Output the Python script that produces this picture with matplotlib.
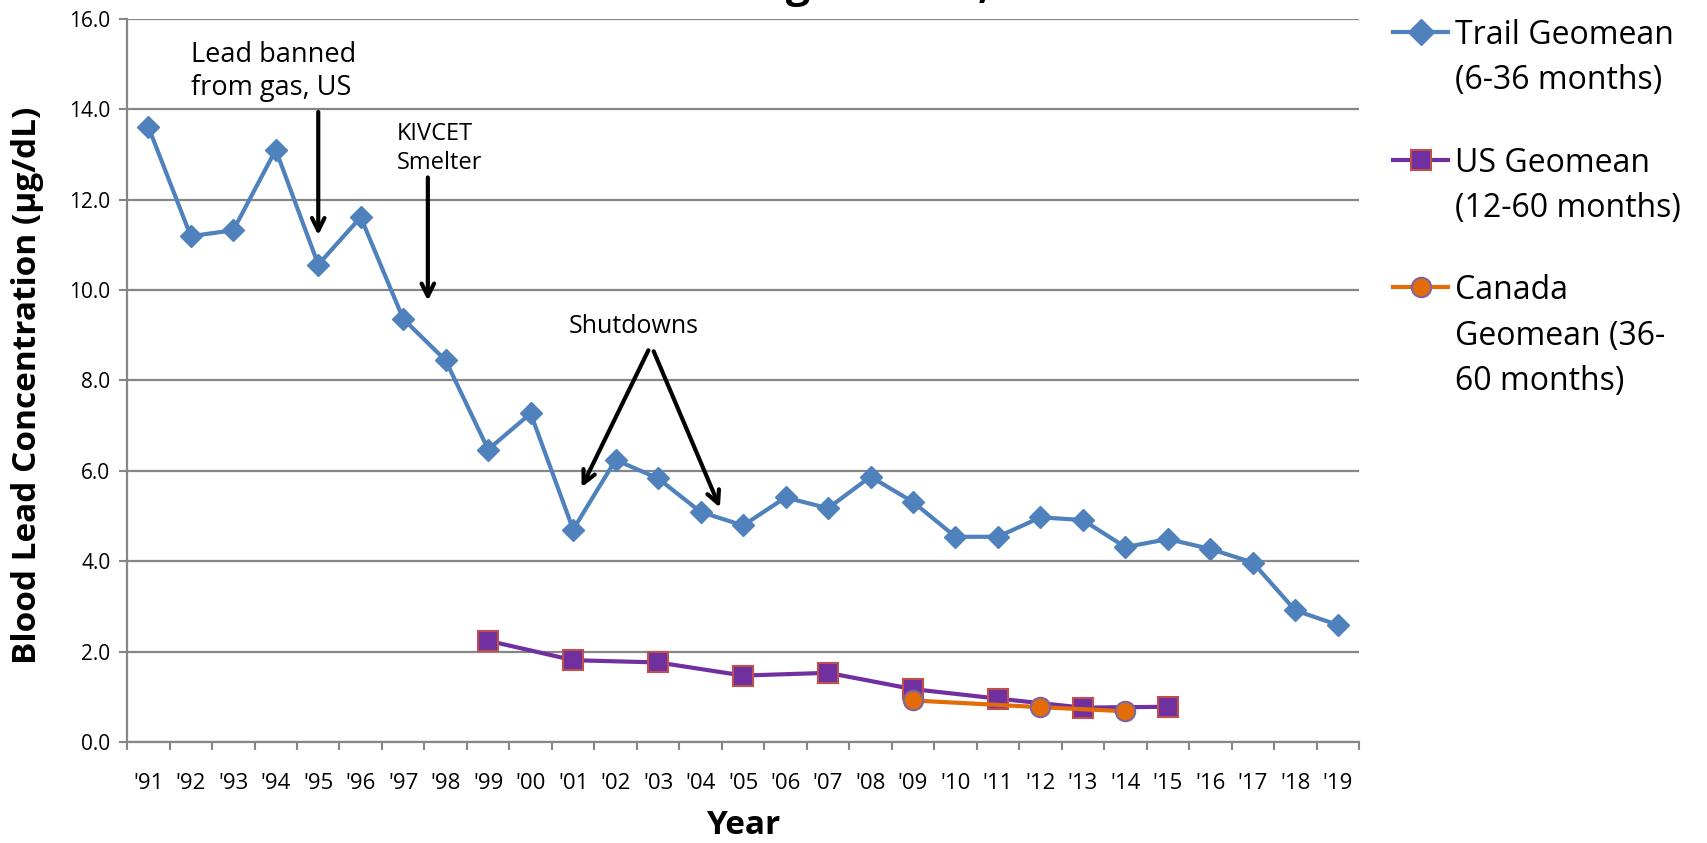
import numpy as np
import matplotlib
matplotlib.use("Agg")
import matplotlib.pyplot as plt
from matplotlib.lines import Line2D

plt.rcParams["font.family"] = ["Open Sans", "DejaVu Sans"]

# --- data
years = ["'91", "'92", "'93", "'94", "'95", "'96", "'97", "'98", "'99", "'00",
         "'01", "'02", "'03", "'04", "'05", "'06", "'07", "'08", "'09", "'10",
         "'11", "'12", "'13", "'14", "'15", "'16", "'17", "'18", "'19"]
trail = [13.61, 11.19, 11.32, 13.10, 10.56, 11.61, 9.36, 8.44, 6.47, 7.27,
         4.70, 6.24, 5.83, 5.09, 4.79, 5.41, 5.17, 5.87, 5.31, 4.54,
         4.54, 4.97, 4.91, 4.31, 4.49, 4.27, 3.97, 2.91, 2.59]
us_years = ["'99", "'01", "'03", "'05", "'07", "'09", "'11", "'13", "'15"]
us_vals = [2.24, 1.81, 1.76, 1.47, 1.53, 1.17, 0.96, 0.76, 0.78]
ca_years = ["'09", "'12", "'14"]
ca_vals = [0.92, 0.77, 0.68]

legend_labels = [["Trail Geomean", "(6-36 months)"],
                 ["US Geomean", "(12-60 months)"],
                 ["Canada", "Geomean (36-", "60 months)"]]

BLUE = "#4F81BD"
PURPLE = "#7030A0"
RED_EDGE = "#C0504D"
ORANGE = "#E36C09"
LAV_EDGE = "#8064A2"
GRID = "#868686"

x_of = {y: i for i, y in enumerate(years)}

fig = plt.figure(figsize=(17.08, 8.43), dpi=100)
ax = fig.add_axes([0.0744, 0.1198, 0.7213, 0.858])

ax.plot(range(len(years)), trail, color=BLUE, lw=3, marker="D", ms=11.5,
        mfc=BLUE, mec=BLUE, zorder=3)
ax.plot([x_of[y] for y in us_years], us_vals, color=PURPLE, lw=3, marker="s",
        ms=14, mfc=PURPLE, mec=RED_EDGE, mew=1.5, zorder=3)
ax.plot([x_of[y] for y in ca_years], ca_vals, color=ORANGE, lw=3, marker="o",
        ms=14, mfc=ORANGE, mec=LAV_EDGE, mew=1.5, zorder=4)

ax.set_xlim(-0.5, len(years) - 0.5)
ax.set_ylim(0, 16)
ax.set_yticks(np.arange(0, 16.1, 2))
ax.set_yticklabels([f"{v:.1f}" for v in np.arange(0, 16.1, 2)], fontsize=15)
ax.yaxis.grid(True, color=GRID, lw=1.6)
ax.set_axisbelow(True)

ax.set_xticks(np.arange(-0.5, len(years), 1.0))
ax.set_xticklabels([])
ax.set_xticks(range(len(years)), minor=True)
ax.set_xticklabels(years, minor=True, fontsize=16)
ax.tick_params(axis="x", which="major", length=6, width=1.5, color=GRID, direction="out")
ax.tick_params(axis="x", which="minor", length=0, pad=22)
ax.tick_params(axis="y", length=6, width=1.5, color=GRID, pad=6)

for s in ["top", "right"]:
    ax.spines[s].set_visible(False)
for s in ["left", "bottom"]:
    ax.spines[s].set_color(GRID)
    ax.spines[s].set_linewidth(1.6)

ax.set_ylabel("Blood Lead Concentration (\u00b5g/dL)", fontsize=24, fontweight="bold",
              va="center")
ax.yaxis.set_label_coords(-0.081, 0.493)
ax.set_xlabel("Year", fontsize=24, fontweight="bold")
ax.xaxis.set_label_coords(0.5, -0.116)
ax.xaxis.label.set_va("center")

# --- annotations
arrow = dict(arrowstyle="->,head_length=0.9,head_width=0.45", color="black", lw=3)
ax.text(1.0, 15.5, "Lead banned\nfrom gas, US", fontsize=19.5, va="top", linespacing=1.2)
ax.annotate("", xy=(4, 11.15), xytext=(4, 14.0), arrowprops=arrow)
ax.text(5.84, 13.72, "KIVCET\nSmelter", fontsize=17, va="top", linespacing=1.3)
ax.annotate("", xy=(6.58, 9.7), xytext=(6.58, 12.55), arrowprops=arrow)
ax.text(11.43, 9.2, "Shutdowns", fontsize=18, ha="center", va="center")
ax.annotate("", xy=(10.17, 5.58), xytext=(11.8, 8.72), arrowprops=arrow)
ax.annotate("", xy=(13.48, 5.13), xytext=(11.87, 8.70), arrowprops=arrow)

# --- title (mostly cut off above the figure, as in the source)
fig.text(0.4605, 1.003, "Blood Lead Testing Results, Trail BC", fontsize=31,
         fontweight="bold", ha="center", va="baseline")

# --- legend drawn beside the plot
W, H = 1708.0, 843.0
hx0, hx1, tx = 1393 / W, 1448 / W, 1455 / W
handle_y = [32, 160, 287]
baselines = [[44, 89], [172, 217], [299, 345, 390]]
styles = [dict(color=BLUE, marker="D", ms=13, mfc=BLUE, mec=BLUE),
          dict(color=PURPLE, marker="s", ms=14, mfc=PURPLE, mec=RED_EDGE, mew=1.5),
          dict(color=ORANGE, marker="o", ms=14, mfc=ORANGE, mec=LAV_EDGE, mew=1.5)]
for hy, lines, st, bl in zip(handle_y, legend_labels, styles, baselines):
    yf = 1 - hy / H
    fig.add_artist(Line2D([hx0, (hx0 + hx1) / 2, hx1], [yf, yf, yf], lw=3,
                          markevery=[1], transform=fig.transFigure, **st))
    for txt, b in zip(lines, bl):
        fig.text(tx, 1 - b / H, txt, fontsize=23, va="baseline", ha="left")

fig.savefig("out.png", dpi=100)
